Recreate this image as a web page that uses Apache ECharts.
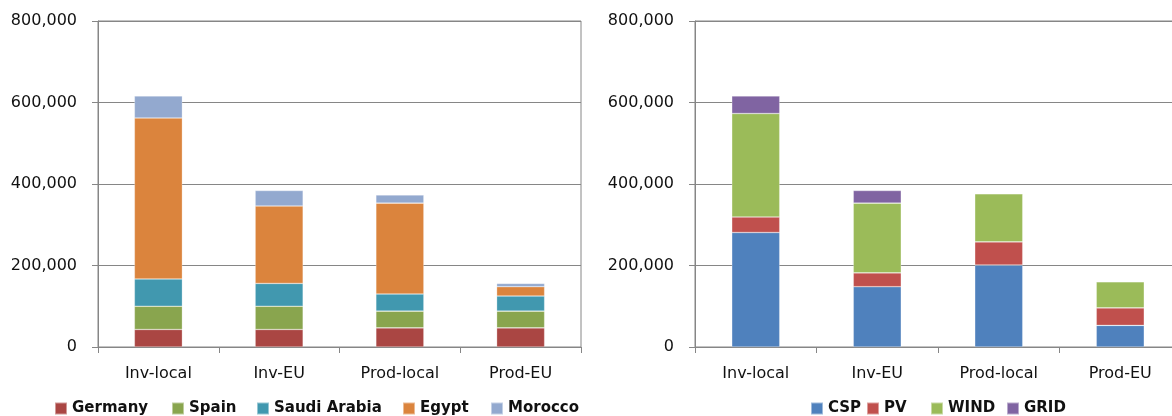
<!DOCTYPE html>
<html><head><meta charset="utf-8">
<script src="https://cdn.jsdelivr.net/npm/echarts@6/dist/echarts.min.js"></script>
<style>html,body{margin:0;padding:0;background:#fff}#c{width:1172px;height:416px}</style>
</head><body><div id="c"></div>
<script>
const categories = ['Inv-local', 'Inv-EU', 'Prod-local', 'Prod-EU'];
const yTicks = [0, 200000, 400000, 600000, 800000];
// Left chart: by country
const countryNames = ['Germany', 'Spain', 'Saudi Arabia', 'Egypt', 'Morocco'];
const germany = [43000, 43000, 47000, 47000];
const spain = [57000, 57000, 41000, 41000];
const saudiArabia = [67000, 56000, 42000, 37000];
const egypt = [395000, 190000, 223000, 23000];
const morocco = [54000, 38000, 20000, 8000];
// Right chart: by technology
const techNames = ['CSP', 'PV', 'WIND', 'GRID'];
const csp = [281000, 148000, 201000, 53000];
const pv = [38000, 34000, 57000, 43000];
const wind = [254000, 171000, 118000, 64000];
const grid = [43000, 31000, 0, 0];

const countryColors = ['#AA4643', '#89A54E', '#4198AF', '#DB843D', '#93A9CF'];
const techColors = ['#4F81BD', '#C0504D', '#9BBB59', '#8064A2'];
const countryLegendLeft = [54, 171, 256, 402, 490];
const techLegendLeft = [810, 866, 930, 1006];

const FONT = 'DejaVu Sans';
const gray = '#868686';
function xAxis(idx) {
  return {
    type: 'category', gridIndex: idx, data: categories,
    axisLine: {show: true, lineStyle: {color: gray, width: 1}},
    axisTick: {show: true, length: 6, lineStyle: {color: gray}},
    axisLabel: {fontFamily: FONT, fontSize: 16, color: '#111', margin: 19}
  };
}
function yAxis(idx) {
  return {
    type: 'value', gridIndex: idx, min: 0, max: 800000, interval: 200000,
    axisLine: {show: true, lineStyle: {color: gray, width: 1}},
    axisTick: {show: true, length: 6, lineStyle: {color: gray}},
    splitLine: {show: true, lineStyle: {color: gray, width: 1}},
    axisLabel: {fontFamily: FONT, fontSize: 16, color: '#111', margin: 21,
      formatter: v => yTicks.includes(v) ? v.toLocaleString('en-US') : ''}
  };
}
function bars(names, arrays, colors, idx) {
  return names.map((n, i) => ({
    name: n, type: 'bar', stack: 's' + idx, xAxisIndex: idx, yAxisIndex: idx,
    barWidth: 48, data: arrays[i],
    itemStyle: {color: colors[i], borderColor: 'rgba(255,255,255,0.45)', borderWidth: 0.6},
    emphasis: {disabled: true}
  }));
}
const legendText = {fontFamily: FONT, fontSize: 15, fontWeight: 'bold', color: '#111'};
function legends(names, lefts) {
  return names.map((n, i) => ({
    data: [n], left: lefts[i], top: 401, padding: 0, itemWidth: 12, itemHeight: 12,
    itemGap: 0, icon: 'rect', textStyle: legendText, selectedMode: false
  }));
}
const chart = echarts.init(document.getElementById('c'), null, {renderer: 'canvas'});
chart.setOption({
  animation: false,
  backgroundColor: '#fff',
  grid: [
    {left: 98, width: 483, top: 21, bottom: 69, show: true, borderColor: gray, borderWidth: 1,
     outerBoundsMode: 'none', containLabel: false},
    {left: 695, width: 486, top: 21, bottom: 69, show: true, borderColor: gray, borderWidth: 1,
     outerBoundsMode: 'none', containLabel: false}
  ],
  xAxis: [xAxis(0), xAxis(1)],
  yAxis: [yAxis(0), yAxis(1)],
  legend: [...legends(countryNames, countryLegendLeft), ...legends(techNames, techLegendLeft)],
  series: [
    ...bars(countryNames, [germany, spain, saudiArabia, egypt, morocco], countryColors, 0),
    ...bars(techNames, [csp, pv, wind, grid], techColors, 1)
  ]
});
</script></body></html>
